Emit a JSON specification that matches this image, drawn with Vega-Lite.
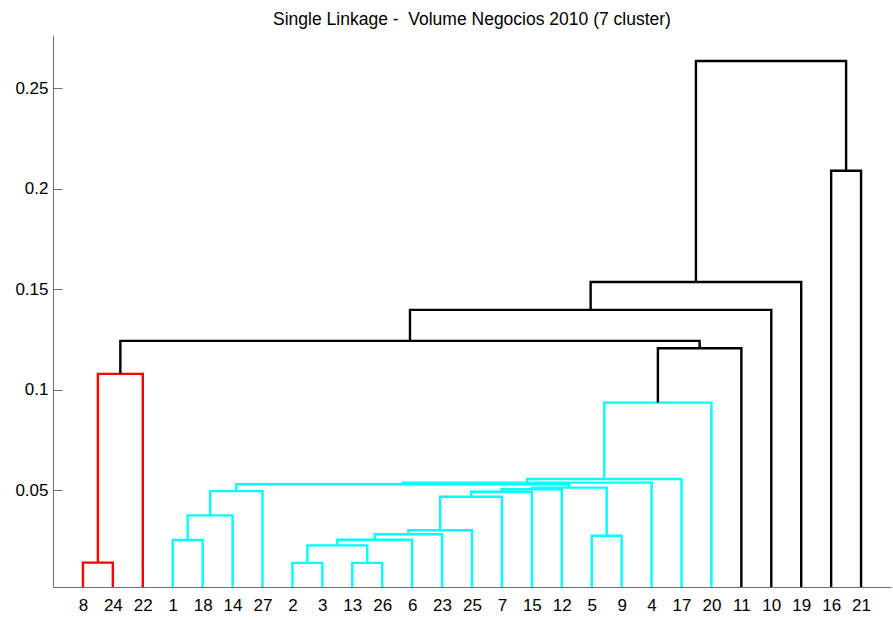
{
  "$schema": "https://vega.github.io/schema/vega-lite/v6.json",
  "width": 838,
  "height": 552,
  "autosize": {"type": "none"},
  "padding": {"left": 53, "top": 35, "right": 2, "bottom": 31},
  "background": "white",
  "title": {
    "text": "Single Linkage - \u00a0Volume Negocios 2010 (7 cluster)",
    "font": "Liberation Sans",
    "fontSize": 17.5,
    "fontWeight": "normal",
    "color": "black",
    "anchor": "middle",
    "frame": "group",
    "baseline": "alphabetic",
    "offset": 12,
    "dy": 19
  },
  "config": {
    "view": {"stroke": null},
    "axis": {"labelFont": "Liberation Sans", "labelFontSize": 17, "labelColor": "black", "grid": false, "title": null, "domainColor": "#707070", "tickColor": "#707070"}
  },
  "data": {
    "values": [
      {"n":1,"o":1,"x":1,"y":0,"c":"r"},{"n":1,"o":2,"x":1,"y":0.0141,"c":"r"},{"n":1,"o":3,"x":2,"y":0.0141,"c":"r"},{"n":1,"o":4,"x":2,"y":0,"c":"r"},
      {"n":2,"o":1,"x":1.5,"y":0.0141,"c":"r"},{"n":2,"o":2,"x":1.5,"y":0.108,"c":"r"},{"n":2,"o":3,"x":3,"y":0.108,"c":"r"},{"n":2,"o":4,"x":3,"y":0,"c":"r"},
      {"n":3,"o":1,"x":4,"y":0,"c":"c"},{"n":3,"o":2,"x":4,"y":0.0254,"c":"c"},{"n":3,"o":3,"x":5,"y":0.0254,"c":"c"},{"n":3,"o":4,"x":5,"y":0,"c":"c"},
      {"n":4,"o":1,"x":4.5,"y":0.0254,"c":"c"},{"n":4,"o":2,"x":4.5,"y":0.0376,"c":"c"},{"n":4,"o":3,"x":6,"y":0.0376,"c":"c"},{"n":4,"o":4,"x":6,"y":0,"c":"c"},
      {"n":5,"o":1,"x":5.25,"y":0.0376,"c":"c"},{"n":5,"o":2,"x":5.25,"y":0.0497,"c":"c"},{"n":5,"o":3,"x":7,"y":0.0497,"c":"c"},{"n":5,"o":4,"x":7,"y":0,"c":"c"},
      {"n":6,"o":1,"x":8,"y":0,"c":"c"},{"n":6,"o":2,"x":8,"y":0.014,"c":"c"},{"n":6,"o":3,"x":9,"y":0.014,"c":"c"},{"n":6,"o":4,"x":9,"y":0,"c":"c"},
      {"n":7,"o":1,"x":10,"y":0,"c":"c"},{"n":7,"o":2,"x":10,"y":0.014,"c":"c"},{"n":7,"o":3,"x":11,"y":0.014,"c":"c"},{"n":7,"o":4,"x":11,"y":0,"c":"c"},
      {"n":8,"o":1,"x":8.5,"y":0.014,"c":"c"},{"n":8,"o":2,"x":8.5,"y":0.0227,"c":"c"},{"n":8,"o":3,"x":10.5,"y":0.0227,"c":"c"},{"n":8,"o":4,"x":10.5,"y":0.014,"c":"c"},
      {"n":9,"o":1,"x":9.5,"y":0.0227,"c":"c"},{"n":9,"o":2,"x":9.5,"y":0.0255,"c":"c"},{"n":9,"o":3,"x":12,"y":0.0255,"c":"c"},{"n":9,"o":4,"x":12,"y":0,"c":"c"},
      {"n":10,"o":1,"x":10.75,"y":0.0255,"c":"c"},{"n":10,"o":2,"x":10.75,"y":0.0282,"c":"c"},{"n":10,"o":3,"x":13,"y":0.0282,"c":"c"},{"n":10,"o":4,"x":13,"y":0,"c":"c"},
      {"n":11,"o":1,"x":11.875,"y":0.0282,"c":"c"},{"n":11,"o":2,"x":11.875,"y":0.0302,"c":"c"},{"n":11,"o":3,"x":14,"y":0.0302,"c":"c"},{"n":11,"o":4,"x":14,"y":0,"c":"c"},
      {"n":12,"o":1,"x":12.9375,"y":0.0302,"c":"c"},{"n":12,"o":2,"x":12.9375,"y":0.0469,"c":"c"},{"n":12,"o":3,"x":15,"y":0.0469,"c":"c"},{"n":12,"o":4,"x":15,"y":0,"c":"c"},
      {"n":13,"o":1,"x":13.96875,"y":0.0469,"c":"c"},{"n":13,"o":2,"x":13.96875,"y":0.0494,"c":"c"},{"n":13,"o":3,"x":16,"y":0.0494,"c":"c"},{"n":13,"o":4,"x":16,"y":0,"c":"c"},
      {"n":14,"o":1,"x":14.984375,"y":0.0494,"c":"c"},{"n":14,"o":2,"x":14.984375,"y":0.0506,"c":"c"},{"n":14,"o":3,"x":17,"y":0.0506,"c":"c"},{"n":14,"o":4,"x":17,"y":0,"c":"c"},
      {"n":15,"o":1,"x":18,"y":0,"c":"c"},{"n":15,"o":2,"x":18,"y":0.0275,"c":"c"},{"n":15,"o":3,"x":19,"y":0.0275,"c":"c"},{"n":15,"o":4,"x":19,"y":0,"c":"c"},
      {"n":16,"o":1,"x":15.9921875,"y":0.0506,"c":"c"},{"n":16,"o":2,"x":15.9921875,"y":0.0514,"c":"c"},{"n":16,"o":3,"x":18.5,"y":0.0514,"c":"c"},{"n":16,"o":4,"x":18.5,"y":0.0275,"c":"c"},
      {"n":17,"o":1,"x":6.125,"y":0.0497,"c":"c"},{"n":17,"o":2,"x":6.125,"y":0.0531,"c":"c"},{"n":17,"o":3,"x":17.24609375,"y":0.0531,"c":"c"},{"n":17,"o":4,"x":17.24609375,"y":0.0514,"c":"c"},
      {"n":18,"o":1,"x":11.685546875,"y":0.0531,"c":"c"},{"n":18,"o":2,"x":11.685546875,"y":0.0539,"c":"c"},{"n":18,"o":3,"x":20,"y":0.0539,"c":"c"},{"n":18,"o":4,"x":20,"y":0,"c":"c"},
      {"n":19,"o":1,"x":15.8427734375,"y":0.0539,"c":"c"},{"n":19,"o":2,"x":15.8427734375,"y":0.0557,"c":"c"},{"n":19,"o":3,"x":21,"y":0.0557,"c":"c"},{"n":19,"o":4,"x":21,"y":0,"c":"c"},
      {"n":20,"o":1,"x":18.42138671875,"y":0.0557,"c":"c"},{"n":20,"o":2,"x":18.42138671875,"y":0.0937,"c":"c"},{"n":20,"o":3,"x":22,"y":0.0937,"c":"c"},{"n":20,"o":4,"x":22,"y":0,"c":"c"},
      {"n":21,"o":1,"x":20.210693359375,"y":0.0937,"c":"k"},{"n":21,"o":2,"x":20.210693359375,"y":0.1207,"c":"k"},{"n":21,"o":3,"x":23,"y":0.1207,"c":"k"},{"n":21,"o":4,"x":23,"y":0,"c":"k"},
      {"n":22,"o":1,"x":2.25,"y":0.108,"c":"k"},{"n":22,"o":2,"x":2.25,"y":0.1244,"c":"k"},{"n":22,"o":3,"x":21.6053466796875,"y":0.1244,"c":"k"},{"n":22,"o":4,"x":21.6053466796875,"y":0.1207,"c":"k"},
      {"n":23,"o":1,"x":11.92767333984375,"y":0.1244,"c":"k"},{"n":23,"o":2,"x":11.92767333984375,"y":0.1398,"c":"k"},{"n":23,"o":3,"x":24,"y":0.1398,"c":"k"},{"n":23,"o":4,"x":24,"y":0,"c":"k"},
      {"n":24,"o":1,"x":17.963836669921875,"y":0.1398,"c":"k"},{"n":24,"o":2,"x":17.963836669921875,"y":0.1537,"c":"k"},{"n":24,"o":3,"x":25,"y":0.1537,"c":"k"},{"n":24,"o":4,"x":25,"y":0,"c":"k"},
      {"n":25,"o":1,"x":26,"y":0,"c":"k"},{"n":25,"o":2,"x":26,"y":0.209,"c":"k"},{"n":25,"o":3,"x":27,"y":0.209,"c":"k"},{"n":25,"o":4,"x":27,"y":0,"c":"k"},
      {"n":26,"o":1,"x":21.48191833496094,"y":0.1537,"c":"k"},{"n":26,"o":2,"x":21.48191833496094,"y":0.2636,"c":"k"},{"n":26,"o":3,"x":26.5,"y":0.2636,"c":"k"},{"n":26,"o":4,"x":26.5,"y":0.209,"c":"k"}
    ]
  },
  "mark": {"type": "line", "strokeWidth": 2.4, "strokeJoin": "miter", "strokeCap": "butt", "clip": true},
  "encoding": {
    "x": {
      "field": "x", "type": "quantitative",
      "scale": {"domain": [0, 28], "nice": false, "zero": false},
      "axis": {
        "values": [1,2,3,4,5,6,7,8,9,10,11,12,13,14,15,16,17,18,19,20,21,22,23,24,25,26,27],
        "labelExpr": "['8','24','22','1','18','14','27','2','3','13','26','6','23','25','7','15','12','5','9','4','17','20','11','10','19','16','21'][datum.value - 1]",
        "ticks": false, "tickSize": 0, "labelPadding": 10, "labelFlush": false, "labelOverlap": false
      }
    },
    "y": {
      "field": "y", "type": "quantitative",
      "scale": {"domain": [0.002, 0.2765], "nice": false, "zero": false},
      "axis": {"values": [0.05, 0.1, 0.15, 0.2, 0.25], "format": ".2~f", "tickSize": -9, "labelPadding": 14, "labelFlush": false}
    },
    "detail": {"field": "n"},
    "order": {"field": "o"},
    "color": {
      "field": "c", "type": "nominal",
      "scale": {"domain": ["r", "c", "k"], "range": ["#ff0000", "#00ffff", "#000000"]},
      "legend": null
    }
  }
}
